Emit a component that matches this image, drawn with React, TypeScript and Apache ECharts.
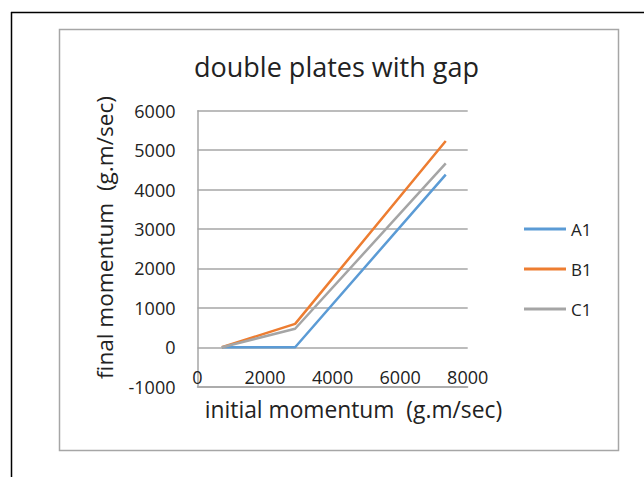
import React, { useEffect, useRef } from "react";
import * as echarts from "echarts";

const title = "double plates with gap";
const xAxisName = "initial momentum  (g.m/sec)";
const yAxisName = "final momentum  (g.m/sec)";
const seriesNames = ["A1", "B1", "C1"];
const colors = ["#5B9BD5", "#ED7D31", "#A5A5A5"];
const xValues = [720, 2890, 7350];
const a1Values = [0, 0, 4380];
const b1Values = [0, 594, 5230];
const c1Values = [0, 470, 4665];

const FONT = "'Open Sans', Lato, sans-serif";

export default function App() {
  const ref = useRef<HTMLDivElement>(null);
  useEffect(() => {
    const chart = echarts.init(ref.current!, null, { renderer: "svg" });
    const all = [a1Values, b1Values, c1Values];
    chart.setOption({
      animation: false,
      textStyle: { fontFamily: FONT },
      graphic: [
        { type: "line", shape: { x1: 11, y1: 12.5, x2: 644, y2: 12.5 }, style: { stroke: "#000", lineWidth: 1.5 } },
        { type: "line", shape: { x1: 11.5, y1: 12, x2: 11.5, y2: 477 }, style: { stroke: "#000", lineWidth: 1.5 } },
        {
          type: "rect",
          shape: { x: 59.5, y: 29.5, width: 559, height: 421 },
          style: { fill: "none", stroke: "#a6a6a6", lineWidth: 1.5 },
          z: -1,
        },
        {
          type: "text",
          x: 336.5,
          y: 66,
          style: {
            text: title,
            fontFamily: FONT,
            fontSize: 27,
            fill: "#222",
            align: "center",
            verticalAlign: "middle",
          },
        },
        {
          type: "text",
          x: 104,
          y: 237.5,
          rotation: Math.PI / 2,
          style: {
            text: yAxisName,
            fontFamily: FONT,
            fontSize: 22.6,
            fill: "#222",
            align: "center",
            verticalAlign: "middle",
          },
        },
        {
          type: "text",
          x: 353.5,
          y: 409,
          style: {
            text: xAxisName,
            fontFamily: FONT,
            fontSize: 22.8,
            fill: "#222",
            align: "center",
            verticalAlign: "middle",
          },
        },
      ],
      legend: {
        orient: "vertical",
        left: 524,
        top: 218,
        padding: 0,
        icon: "rect",
        itemWidth: 42,
        itemHeight: 3,
        itemGap: 18,
        textStyle: { fontFamily: FONT, fontSize: 17, color: "#222", lineHeight: 22 },
        data: seriesNames,
      },
      grid: { left: 197.5, top: 110.7, right: 176.3, bottom: 90.3, containLabel: false },
      xAxis: {
        type: "value",
        min: 0,
        max: 8000,
        interval: 2000,
        axisLine: { show: true, onZero: false, lineStyle: { color: "#a6a6a6", width: 1.5 } },
        axisTick: { show: false },
        splitLine: { show: false },
        axisLabel: { inside: true, margin: 1, fontFamily: FONT, fontSize: 18, color: "#222", formatter: (v: number) => String(v) },
      },
      yAxis: {
        type: "value",
        min: -1000,
        max: 6000,
        interval: 1000,
        axisLine: { show: true, lineStyle: { color: "#a6a6a6", width: 1.5 } },
        axisTick: { show: false },
        splitLine: { show: true, lineStyle: { color: "#a6a6a6", width: 1.5 } },
        axisLabel: { margin: 22, fontFamily: FONT, fontSize: 18, color: "#222", formatter: (v: number) => String(v) },
      },
      series: seriesNames.map((name, i) => ({
        name,
        type: "line",
        symbol: "none",
        color: colors[i],
        lineStyle: { width: 2.5, color: colors[i] },
        data: xValues.map((x, j) => [x, all[i][j]]),
      })),
    });
    return () => chart.dispose();
  }, []);
  return <div ref={ref} style={{ position: "fixed", left: 0, top: 0, width: 644, height: 477, background: "#fff" }} />;
}
